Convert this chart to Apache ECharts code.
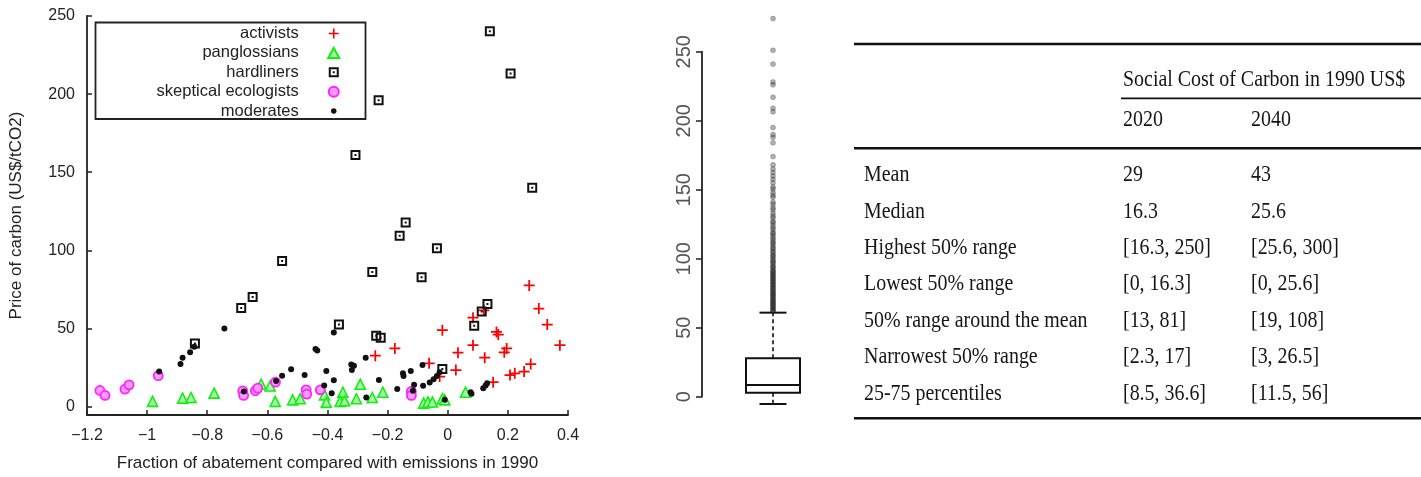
<!DOCTYPE html>
<html><head><meta charset="utf-8">
<script src="https://cdn.jsdelivr.net/npm/echarts@6/dist/echarts.min.js"></script>
<style>html,body{margin:0;padding:0;background:#fff}#c{width:1421px;height:477px}</style>
</head><body><div id="c"></div>
<script>
// ---------- scatter data: [fraction of abatement, price of carbon] ----------
const activists = [[0.271,77.5],[0.303,62.7],[0.331,52.5],[0.373,39.3],[-0.018,48.9],[0.084,56.9],[0.12,61.6],[0.162,47.8],[0.168,46.1],[0.084,39.3],[0.196,37.2],[0.188,34.7],[0.123,31.3],[0.034,34.5],[0.027,23.4],[-0.176,37.2],[-0.241,32.6],[-0.062,27.7],[-0.027,19.2],[0.151,15.6],[0.207,20.2],[0.223,21.3],[0.254,22.4],[0.276,27.2]];
const panglossians = [[-0.982,3.3],[-0.882,5.4],[-0.854,5.8],[-0.777,8.6],[-0.621,14.3],[-0.591,13.2],[-0.574,3.3],[-0.516,4.3],[-0.491,5],[-0.41,7.5],[-0.404,2.7],[-0.349,9.2],[-0.358,3.3],[-0.343,3.7],[-0.291,14.3],[-0.304,5],[-0.251,5.8],[-0.216,9.2],[-0.08,2.2],[-0.066,2.9],[-0.051,2.9],[-0.018,5],[-0.01,4.3],[0.059,9.2]];
const hardliners = [[0.140,240.3],[0.209,213.2],[-0.230,196.1],[-0.307,161.1],[0.281,140.1],[-0.140,117.8],[-0.160,109.3],[-0.036,101.3],[-0.251,86.2],[-0.087,82.8],[0.132,65.6],[0.113,60.9],[0.088,51.7],[-0.362,52.5],[-0.238,45.3],[-0.223,44],[-0.018,24],[-0.551,93.2],[-0.649,70.1],[-0.687,63.1],[-0.841,40.4]];
const ecologists = [[-1.157,10.3],[-1.14,7.1],[-1.074,11.1],[-1.06,13.9],[-0.963,19.8],[-0.682,10.1],[-0.679,7.1],[-0.64,10.1],[-0.632,11.8],[-0.573,15.6],[-0.471,10.7],[-0.469,8],[-0.424,10.7],[-0.121,9.7],[-0.121,7.1]];
const moderates = [[-0.743,49.9],[-0.843,38.3],[-0.857,34.7],[-0.882,31.3],[-0.889,27.2],[-0.96,22.4],[-0.44,36.8],[-0.434,35.9],[-0.521,23.9],[-0.551,19.8],[-0.571,16.4],[-0.476,20.2],[-0.404,22.8],[-0.411,13.5],[-0.678,9.7],[-0.379,47.4],[-0.273,31.3],[-0.321,27],[-0.312,26.2],[-0.319,23.4],[-0.379,16.9],[-0.386,8.6],[-0.271,5.8],[-0.229,17],[-0.168,11.3],[-0.084,26.6],[-0.123,22.8],[-0.149,21.3],[-0.147,19.6],[-0.112,13.9],[-0.116,10.1],[-0.082,13.3],[-0.06,15.4],[-0.047,17.5],[-0.036,19.6],[-0.027,21.9],[-0.01,4.3],[0.076,9.2],[0.079,8.2],[0.118,11.8],[0.126,13.5],[0.131,15]];
const seriesNames = ['activists','panglossians','hardliners','skeptical ecologists','moderates'];
const xTicks = [-1.2,-1,-0.8,-0.6,-0.4,-0.2,0,0.2,0.4];
const yTicks = [0,50,100,150,200,250];

// ---------- box plot: [lower whisker, Q1, median, Q3, upper whisker] ----------
const boxStats = [-5.3, 2.9, 8.5, 27.8, 60.9];
const outliers = [274,251,241,228,226,217,209,206.5,195,190,188,184,174,168,
  165,162.5,160,157.5,155,152,150.5,148,146,144.5,141,139.5,137,135.5,133,131,129.5,127,126,124,122.5,121,119,118,116.5,115,113.5,112,111,109.5,108,107,105.5,104.5,103,102,101,99.5,98.5,97.5,96.5,95,94,93.5,92,91,90.5,89.5,88.5,88,87,86,85.5,84.5,83.5,83,82,81,80.5,79.5,78.5,78,77,76,75.5,74.5,74,73,72.5,71.5,70.5,70,69,68.5,67.5,67,66,65.5,64.5,64,63,62.5,62];
const boxTicks = [0,50,100,150,200,250];

// ---------- table ----------
const tableTitle = 'Social Cost of Carbon in 1990 US$';
const tableYears = ['2020','2040'];
const rowLabels = ['Mean','Median','Highest 50% range','Lowest 50% range','50% range around the mean','Narrowest 50% range','25-75 percentiles'];
const scc2020 = ['29','16.3','[16.3, 250]','[0, 16.3]','[13, 81]','[2.3, 17]','[8.5, 36.6]'];
const scc2040 = ['43','25.6','[25.6, 300]','[0, 25.6]','[19, 108]','[3, 26.5]','[11.5, 56]'];

const SANS = '"Liberation Sans", Arial, sans-serif';
const SERIF = '"Liberation Serif", "DejaVu Serif", serif';
const fmtMinus = v => String(v).replace('-', '\u2212');

// table graphics
const tCol = [864, 1123, 1251];
const rowY0 = 175, rowStep = 36.4;
const tScale = 0.83;
function tText(str, x, y) {
  return {type:'text', x:x, y:y, scaleX:tScale, silent:true,
    style:{text:str, font:'24px ' + SERIF, fill:'#151515', textAlign:'left', textVerticalAlign:'middle', verticalAlign:'middle'}};
}
function rule(x1, x2, y, w) {
  return {type:'line', silent:true, shape:{x1:x1, y1:y, x2:x2, y2:y}, style:{stroke:'#111', lineWidth:w}};
}
const graphics = [
  {type:'rect', silent:true, shape:{x:95.5, y:22.5, width:270, height:96.5}, style:{fill:'none', stroke:'#222', lineWidth:1.8}},
  rule(854, 1421, 44, 2.4),
  rule(1121, 1421, 98.3, 1.7),
  rule(854, 1421, 148.3, 2.4),
  rule(854, 1421, 418.3, 2.6),
  tText(tableTitle, tCol[1], 80),
  tText(tableYears[0], tCol[1], 120),
  tText(tableYears[1], tCol[2], 120)
];
rowLabels.forEach((lab, i) => {
  const y = rowY0 + i * rowStep;
  graphics.push(tText(lab, tCol[0], y), tText(scc2020[i], tCol[1], y), tText(scc2040[i], tCol[2], y));
});

const axisTxt = {color:'#222', fontSize:16, fontFamily:SANS};
const chart = echarts.init(document.getElementById('c'), null, {renderer:'canvas'});
chart.setOption({
  animation:false,
  backgroundColor:'#fff',
  grid:[
    {left:87, top:16, width:481, height:401},
    {left:702, top:51.7, width:142, height:345}
  ],
  legend:{
    orient:'vertical', align:'right', right:1080, top:25, padding:0,
    itemWidth:60, itemHeight:10, itemGap:2.4,
    textStyle:{fontSize:16.5, fontFamily:SANS, color:'#222', lineHeight:10},
    data:[
      {name:'activists'},{name:'panglossians'},{name:'hardliners'},{name:'skeptical ecologists'},
      {name:'moderates', itemStyle:{borderColor:'#fff', borderWidth:4.5}}
    ]
  },
  xAxis:[
    {gridIndex:0, type:'value', min:-1.2, max:0.4,
      axisLine:{onZero:false, lineStyle:{color:'#222', width:1.8}},
      axisTick:{inside:true, length:5, customValues:xTicks, lineStyle:{color:'#222', width:1.5}},
      axisLabel:{customValues:xTicks, margin:13, formatter:fmtMinus, ...axisTxt},
      splitLine:{show:false},
      name:'Fraction of abatement compared with emissions in 1990', nameLocation:'middle', nameGap:40,
      nameTextStyle:{fontSize:17, fontFamily:SANS, color:'#222'}},
    {gridIndex:1, type:'value', min:-1, max:1, show:false}
  ],
  yAxis:[
    {gridIndex:0, type:'value', min:-5.4, max:250,
      axisLine:{show:true, onZero:false, lineStyle:{color:'#222', width:1.8}},
      axisTick:{show:true, inside:true, length:5, customValues:yTicks, lineStyle:{color:'#222', width:1.5}},
      axisLabel:{customValues:yTicks, margin:12, ...axisTxt},
      splitLine:{show:false},
      name:'Price of carbon (US$/tCO2)', nameLocation:'middle', nameGap:62,
      nameTextStyle:{fontSize:17, fontFamily:SANS, color:'#222'}},
    {gridIndex:1, type:'value', min:0, max:250, interval:50,
      axisLine:{show:true, onZero:false, lineStyle:{color:'#222', width:1.8}},
      axisTick:{show:true, inside:false, length:6, lineStyle:{color:'#222', width:1.5}},
      axisLabel:{rotate:90, margin:8, color:'#555', fontSize:20, fontFamily:SANS},
      splitLine:{show:false}}
  ],
  series:[
    {name:seriesNames[0], type:'scatter', data:activists, clip:false,
      symbol:'path://M4.2,0H5.8V4.2H10V5.8H5.8V10H4.2V5.8H0V4.2H4.2Z', symbolSize:11,
      itemStyle:{color:'#ff0000', opacity:1}},
    {name:seriesNames[1], type:'scatter', data:panglossians, clip:false,
      symbol:'path://M5,0L10,9H0Z', symbolSize:10,
      itemStyle:{color:'#a8ffa8', borderColor:'#11ee11', borderWidth:1.6, opacity:1}},
    {name:seriesNames[2], type:'scatter', data:hardliners, clip:false,
      symbol:'path://M0,0H10V10H0Z M2,2V8H8V2Z M4,4H6V6H4Z', symbolSize:10,
      itemStyle:{color:'#111', opacity:1}},
    {name:seriesNames[3], type:'scatter', data:ecologists, clip:false,
      symbol:'circle', symbolSize:9,
      itemStyle:{color:'#ff9cff', borderColor:'#ff22ff', borderWidth:1.8, opacity:1}},
    {name:seriesNames[4], type:'scatter', data:moderates, clip:false,
      symbol:'circle', symbolSize:6,
      itemStyle:{color:'#111', opacity:1}},
    {name:'outliers', type:'scatter', xAxisIndex:1, yAxisIndex:1, clip:false,
      data:outliers.map(v => [0, v]), symbol:'circle', symbolSize:5,
      itemStyle:{color:'rgba(40,40,40,0.45)', borderColor:'rgba(40,40,40,0.5)', borderWidth:0.6}},
    {name:'box', type:'custom', xAxisIndex:1, yAxisIndex:1, clip:false,
      data:[[0].concat(boxStats)],
      renderItem:function(params, api){
        const cx = api.coord([api.value(0), 0])[0];
        const y = i => api.coord([0, api.value(i)])[1];
        const lo = y(1), q1 = y(2), med = y(3), q3 = y(4), hi = y(5);
        const bw = 54, cw = 27;
        const solid = {stroke:'#111', lineWidth:2, fill:null};
        const dash = {stroke:'#111', lineWidth:1.6, lineDash:[4,3], fill:null};
        return {type:'group', children:[
          {type:'line', shape:{x1:cx, y1:q3, x2:cx, y2:hi}, style:dash},
          {type:'line', shape:{x1:cx, y1:q1, x2:cx, y2:lo}, style:dash},
          {type:'line', shape:{x1:cx-cw/2, y1:hi, x2:cx+cw/2, y2:hi}, style:solid},
          {type:'line', shape:{x1:cx-cw/2, y1:lo, x2:cx+cw/2, y2:lo}, style:solid},
          {type:'rect', shape:{x:cx-bw/2, y:q3, width:bw, height:q1-q3}, style:{fill:'#fff', stroke:'#111', lineWidth:2}},
          {type:'line', shape:{x1:cx-bw/2, y1:med, x2:cx+bw/2, y2:med}, style:solid}
        ]};
      }}
  ],
  graphic:graphics
});
</script>
</body></html>
